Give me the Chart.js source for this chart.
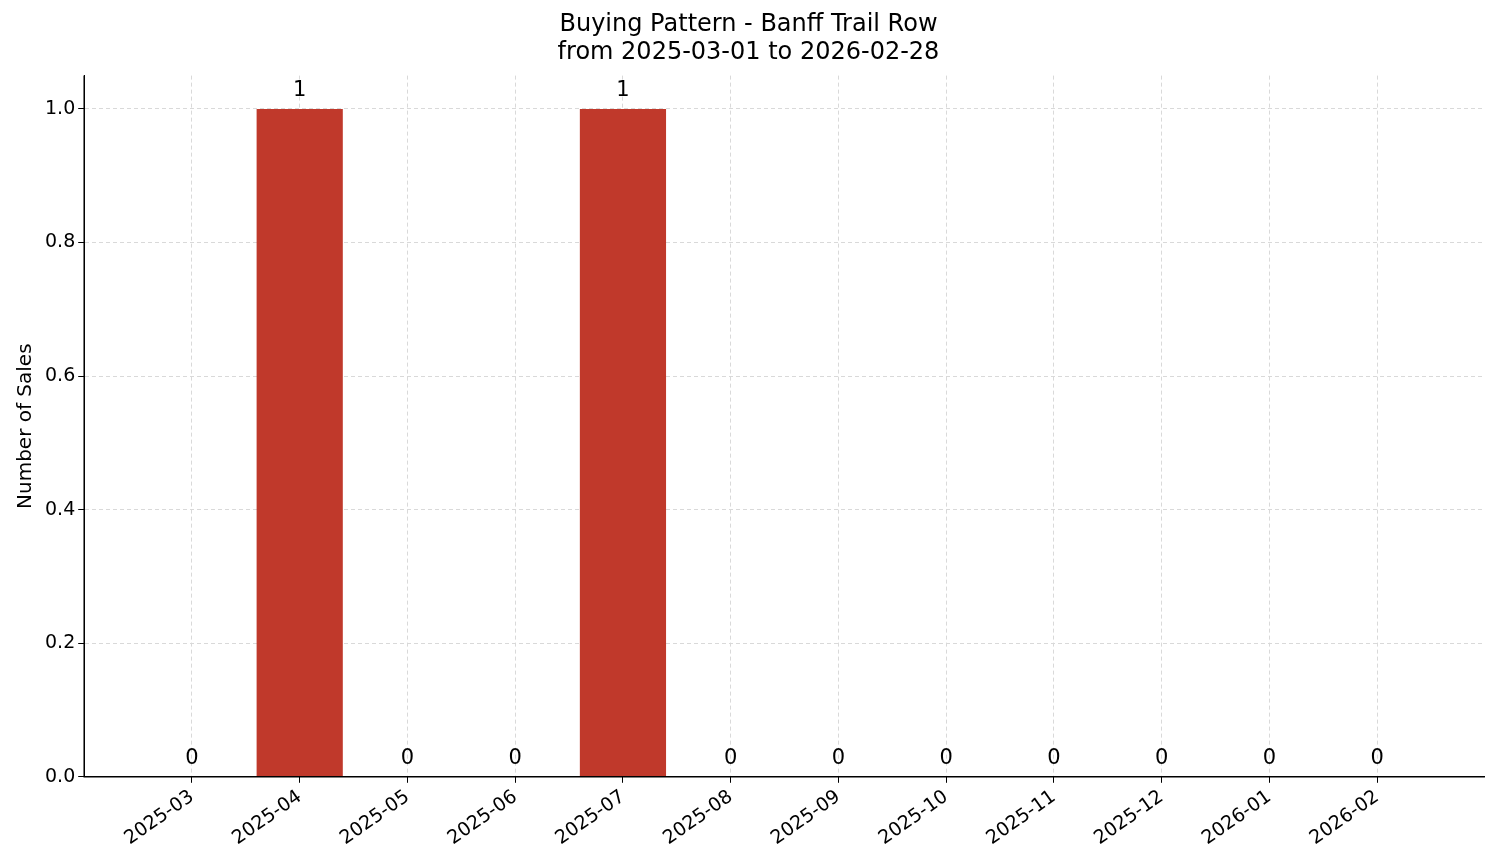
<!DOCTYPE html>
<html><head><meta charset="utf-8">
<script src="https://cdn.jsdelivr.net/npm/chart.js@4"></script>
<style>html,body{margin:0;padding:0;background:#fff}#w{width:1501px;height:863px}</style>
</head><body><div id="w"><canvas id="c"></canvas></div>
<script>
const months = ['2025-03','2025-04','2025-05','2025-06','2025-07','2025-08','2025-09','2025-10','2025-11','2025-12','2026-01','2026-02'];
const sales = [0,1,0,0,1,0,0,0,0,0,0,0];
const yTicks = [0,0.2,0.4,0.6,0.8,1.0];
const labels = [''].concat(months, ['']);
const data = [null].concat(sales, [null]);
const F = 'DejaVu Sans';
const edge = c => (c.index===0||c.index===13);
const valueLabels = {
  id:'vl',
  afterDatasetsDraw(ch){
    const ctx=ch.ctx, meta=ch.getDatasetMeta(0);
    ctx.save(); ctx.font='21px '+F; ctx.fillStyle='#000'; ctx.textAlign='center'; ctx.textBaseline='bottom';
    meta.data.forEach((b,i)=>{ if(data[i]===null) return; ctx.fillText(String(data[i]), b.x, b.y-8); });
    ctx.restore();
  }
};
const axesLine = {
  id:'axes',
  afterDraw(ch){const a=ch.chartArea,ctx=ch.ctx;ctx.save();ctx.strokeStyle='#000';ctx.lineWidth=1.5;ctx.beginPath();ctx.moveTo(a.left,a.top);ctx.lineTo(a.left,a.bottom);ctx.lineTo(a.right,a.bottom);ctx.stroke();ctx.restore();}
};
new Chart(document.getElementById('c'),{
  type:'bar',
  data:{labels, datasets:[{data, backgroundColor:'#c0392b', barPercentage:0.8, categoryPercentage:1}]},
  options:{
    responsive:true, maintainAspectRatio:false, animation:false,
    layout:{padding:{left:10,right:14,top:0,bottom:10}},
    plugins:{legend:{display:false}, tooltip:{enabled:false},
      title:{display:true, text:['Buying Pattern - Banff Trail Row','from 2025-03-01 to 2026-02-28'], color:'#000', font:{family:F,size:24,weight:'normal'}, padding:{top:10,bottom:8}, lineHeight:1.15}},
    scales:{
      x:{offset:false,
        grid:{offset:false, color:c=>edge(c)?'rgba(0,0,0,0)':'#d9d9d9', tickColor:c=>edge(c)?'rgba(0,0,0,0)':'#000', tickLength:6},
        border:{color:'#000', dash:[4,3]},
        ticks:{color:'#000', font:{family:F,size:19}, maxRotation:35, minRotation:35, autoSkip:false}},
      y:{min:0, max:1.05, afterBuildTicks:(s)=>{s.ticks=yTicks.map(v=>({value:v}));},
        grid:{color:'#d9d9d9', tickColor:'#000', tickLength:6}, border:{color:'#000', dash:[4,3]},
        ticks:{color:'#000', font:{family:F,size:19}, callback:v=>v.toFixed(1)},
        title:{display:true, text:'Number of Sales', color:'#000', font:{family:F,size:20}}}
    }
  },
  plugins:[valueLabels, axesLine]
});
</script>
</body></html>
